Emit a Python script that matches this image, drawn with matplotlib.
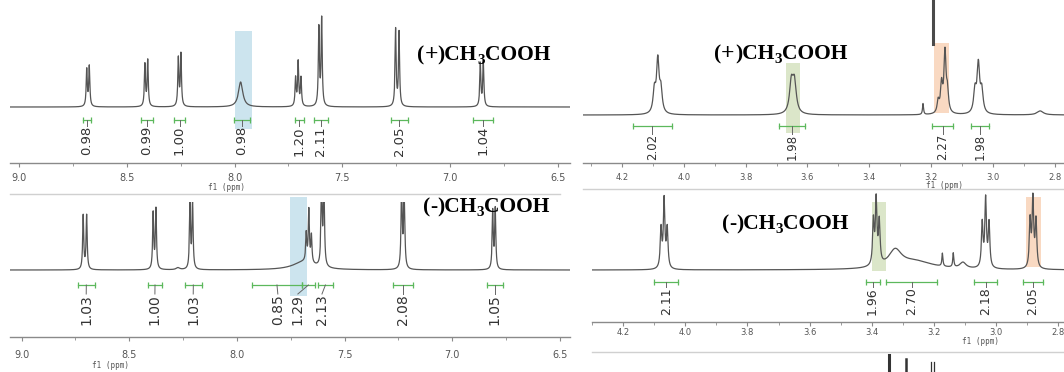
import numpy as np
import matplotlib.pyplot as plt
from matplotlib.ticker import MultipleLocator, FormatStrFormatter
from matplotlib.patches import Rectangle

W, H = 1064, 372
LINE = '#555555'
GREEN = '#5cb85c'
BLUE = '#cce4ee'
OLIVE = '#dbe6c9'
PEACH = '#f9d9c2'

# ---- top left: aromatic region, (+)CH3COOH ----
tl_shift = [8.686, 8.674, 8.416, 8.403, 8.261, 8.249, 7.972,
            7.717, 7.705, 7.692, 7.609, 7.596, 7.253, 7.237, 6.860, 6.846]
tl_height = [37, 40, 42, 46, 48, 52, 25, 28, 44, 28, 78, 87, 77, 74, 43, 45]
tl_width = [0.003] * 6 + [0.012] + [0.003] * 9
tl_int_label = ['0.98', '0.99', '1.00', '0.98', '1.20', '2.11', '2.05', '1.04']
tl_int_left = [8.703, 8.434, 8.281, 8.003, 7.720, 7.632, 7.275, 6.894]
tl_int_right = [8.666, 8.378, 8.230, 7.929, 7.678, 7.567, 7.196, 6.801]

# ---- bottom left: aromatic region, (-)CH3COOH ----
bl_shift = [8.714, 8.698, 8.389, 8.376, 8.274, 8.218, 8.206, 7.690,
            7.678, 7.666, 7.654, 7.607, 7.596, 7.235, 7.223, 6.812, 6.800]
bl_height = [54, 54, 56, 60, 2, 64, 66, 8, 28, 52, 27, 90, 90, 90, 90, 58, 60]
bl_width = [0.003] * 4 + [0.01] + [0.003] * 2 + [0.06] + [0.003] * 9
bl_int_label = ['1.03', '1.00', '1.03', '0.85', '1.29', '2.13', '2.08', '1.05']
bl_int_left = [8.739, 8.413, 8.242, 7.930, 7.698, 7.624, 7.275, 6.839]
bl_int_right = [8.660, 8.348, 8.163, 7.698, 7.638, 7.554, 7.183, 6.765]
bl_int_text = [8.700, 8.381, 8.203, 7.810, 7.717, 7.605, 7.229, 6.802]

# ---- top right: aliphatic region, (+)CH3COOH ----
tr_shift = [4.095, 4.084, 4.074, 3.652, 3.642, 3.226,
            3.177, 3.166, 3.155, 3.147, 3.058, 3.047, 3.036, 2.847]
tr_height = [22, 52, 22, 30, 30, 11, 12, 28, 60, 20, 22, 48, 22, 4]
tr_width = [0.005, 0.005, 0.005, 0.007, 0.007, 0.002,
            0.004, 0.004, 0.004, 0.004, 0.005, 0.005, 0.005, 0.012]
tr_int_label = ['2.02', '1.98', '2.27', '1.98']
tr_int_left = [4.165, 3.692, 3.197, 3.071]
tr_int_right = [4.039, 3.608, 3.129, 3.012]

# ---- bottom right: aliphatic region, (-)CH3COOH ----
br_shift = [4.078, 4.068, 4.058, 3.395, 3.386, 3.376, 3.325, 3.260,
            3.173, 3.138, 3.107, 3.045, 3.034, 3.023, 2.891, 2.882, 2.872]
br_height = [39, 68, 39, 44, 64, 42, 17, 8, 13, 14, 6, 44, 68, 44, 47, 68, 47]
br_width = [0.003] * 6 + [0.025, 0.07, 0.002, 0.002, 0.012] + [0.003] * 6
br_int_label = ['2.11', '1.96', '2.70', '2.18', '2.05']
br_int_left = [4.100, 3.420, 3.355, 3.071, 2.914]
br_int_right = [4.023, 3.375, 3.189, 2.997, 2.850]

# peak tops of the neighbouring spectra that stick into the frame
tr_cut_peak = 3.194
br_cut_peaks = [3.345, 3.291, 3.211, 3.200]
br_cut_tops = [-85, -89, -92, -92]

fig = plt.figure(figsize=(W / 100, H / 100), dpi=100)
renderer = fig.canvas.get_renderer()


def make_axes(x0, x1, top, axis_y, base_y, ppm0, ppm1, major, minor, lsize, pad):
    ax = fig.add_axes([x0 / W, 1 - axis_y / H, (x1 - x0) / W, (axis_y - top) / H])
    ax.set_xlim(ppm0, ppm1)
    ax.set_ylim(-(axis_y - base_y), base_y - top)
    ax.patch.set_alpha(0)
    for s in ['top', 'left', 'right']:
        ax.spines[s].set_visible(False)
    ax.spines['bottom'].set_color('#8a8a8a')
    ax.spines['bottom'].set_linewidth(1.0)
    ax.set_yticks([])
    ax.xaxis.set_major_locator(MultipleLocator(major))
    ax.xaxis.set_minor_locator(MultipleLocator(minor))
    ax.xaxis.set_major_formatter(FormatStrFormatter('%.1f'))
    ax.tick_params(axis='x', which='both', direction='out', color='#8a8a8a',
                   labelsize=lsize, labelcolor='#555555', pad=pad)
    ax.tick_params(axis='x', which='major', length=3, width=0.8)
    ax.tick_params(axis='x', which='minor', length=2, width=0.6)
    return ax


def spectrum(ax, shifts, heights, widths, ceiling=None):
    lo, hi = sorted(ax.get_xlim())
    x = np.linspace(lo, hi, 12000)
    y = np.zeros_like(x)
    for c, h, w in zip(shifts, heights, widths):
        y += h / (1 + ((x - c) / w) ** 2)
    if ceiling is not None:
        y = np.minimum(y, ceiling)
    ax.plot(x, y, color=LINE, lw=0.9, zorder=3)


def integrals(ax, labels, lefts, rights, y_br, y_lab, size, text_x=None):
    for i, lab in enumerate(labels):
        l, r = lefts[i], rights[i]
        mid = (l + r) / 2
        tx = mid if text_x is None else text_x[i]
        ax.plot([l, r], [y_br, y_br], color=GREEN, lw=0.9, marker='|', ms=4,
                mew=0.9, zorder=4)
        ax.plot([mid, tx], [y_br, y_lab], color='#666666', lw=0.7, zorder=4)
        ax.text(tx, y_lab, lab, rotation=90, ha='center', va='top',
                fontsize=size, color='#333333', zorder=5)


def highlight(ax, left, right, y0, y1, color):
    ax.add_patch(Rectangle((right, y0), left - right, y1 - y0, facecolor=color,
                           edgecolor='none', zorder=1, clip_on=False))


def label(x, y, sign):
    # (+)CH3COOH written piece by piece so the sign and the subscript 3 sit right
    pieces = [('(', 15.5, 0), (sign, 17 if sign == '+' else 15.5, 0),
              (')CH', 15.5, 0), ('3', 11, 4), ('COOH', 15.5, 0)]
    for txt, size, dy in pieces:
        t = fig.text(x / W, 1 - (y + dy) / H, txt, fontsize=size,
                     fontfamily='Liberation Serif', fontweight='bold',
                     color='black', ha='left', va='baseline')
        x = t.get_window_extent(renderer).x1


def f1(x, y):
    fig.text(x / W, 1 - y / H, 'f1 (ppm)', fontsize=5.5, color='#555555',
             fontfamily='DejaVu Sans Mono', ha='center', va='center')


# top left
ax = make_axes(10, 570, 0, 163, 107, 9.042, 6.444, 0.5, 0.25, 7, 4.5)
highlight(ax, 7.998, 7.919, -22, 76, BLUE)
spectrum(ax, tl_shift, tl_height, tl_width)
integrals(ax, tl_int_label, tl_int_left, tl_int_right, -13, -19, 9.5)
label(417, 60, '+')
f1(226, 187)

# bottom left
ax = make_axes(10, 570, 202, 337, 270, 9.054, 6.453, 0.5, 0.25, 7, 6)
highlight(ax, 7.754, 7.676, -26, 73, BLUE)
spectrum(ax, bl_shift, bl_height, bl_width, ceiling=68)
integrals(ax, bl_int_label, bl_int_left, bl_int_right, -15, -24, 10, bl_int_text)
label(423, 212, '-')
f1(110, 365)

# top right
ax = make_axes(583, 1064, 0, 163, 115, 4.326, 2.770, 0.2, 0.1, 6, 4)
highlight(ax, 3.669, 3.624, -18, 52, OLIVE)
highlight(ax, 3.190, 3.142, 2, 72, PEACH)
spectrum(ax, tr_shift, tr_height, tr_width)
ax.plot([tr_cut_peak, tr_cut_peak], [71, 115], color='#4a4a4a', lw=2.2, zorder=3)
integrals(ax, tr_int_label, tr_int_left, tr_int_right, -11, -19, 8.5)
label(714, 59, '+')
f1(944, 186)

# bottom right
ax = make_axes(592, 1064, 189, 322, 270, 4.300, 2.782, 0.2, 0.1, 6, 1)
highlight(ax, 3.398, 3.355, -1, 68, OLIVE)
highlight(ax, 2.905, 2.857, 3, 73, PEACH)
spectrum(ax, br_shift, br_height, br_width)
for p, t, lw in zip(br_cut_peaks, br_cut_tops, [2.2, 1.8, 0.9, 0.9]):
    ax.plot([p, p], [t, -105], color='#333333', lw=lw, clip_on=False, zorder=3)
integrals(ax, br_int_label, br_int_left, br_int_right, -12, -17, 9)
label(722, 229, '-')
f1(981, 341)

# thin frame separators
for x0, x1, y in [(10, 560, 194), (583, 1064, 189), (592, 1064, 352)]:
    fig.add_artist(plt.Line2D([x0 / W, x1 / W], [1 - y / H, 1 - y / H],
                              color='#d0d0d0', lw=1.0))

fig.savefig('out.png', dpi=100)
